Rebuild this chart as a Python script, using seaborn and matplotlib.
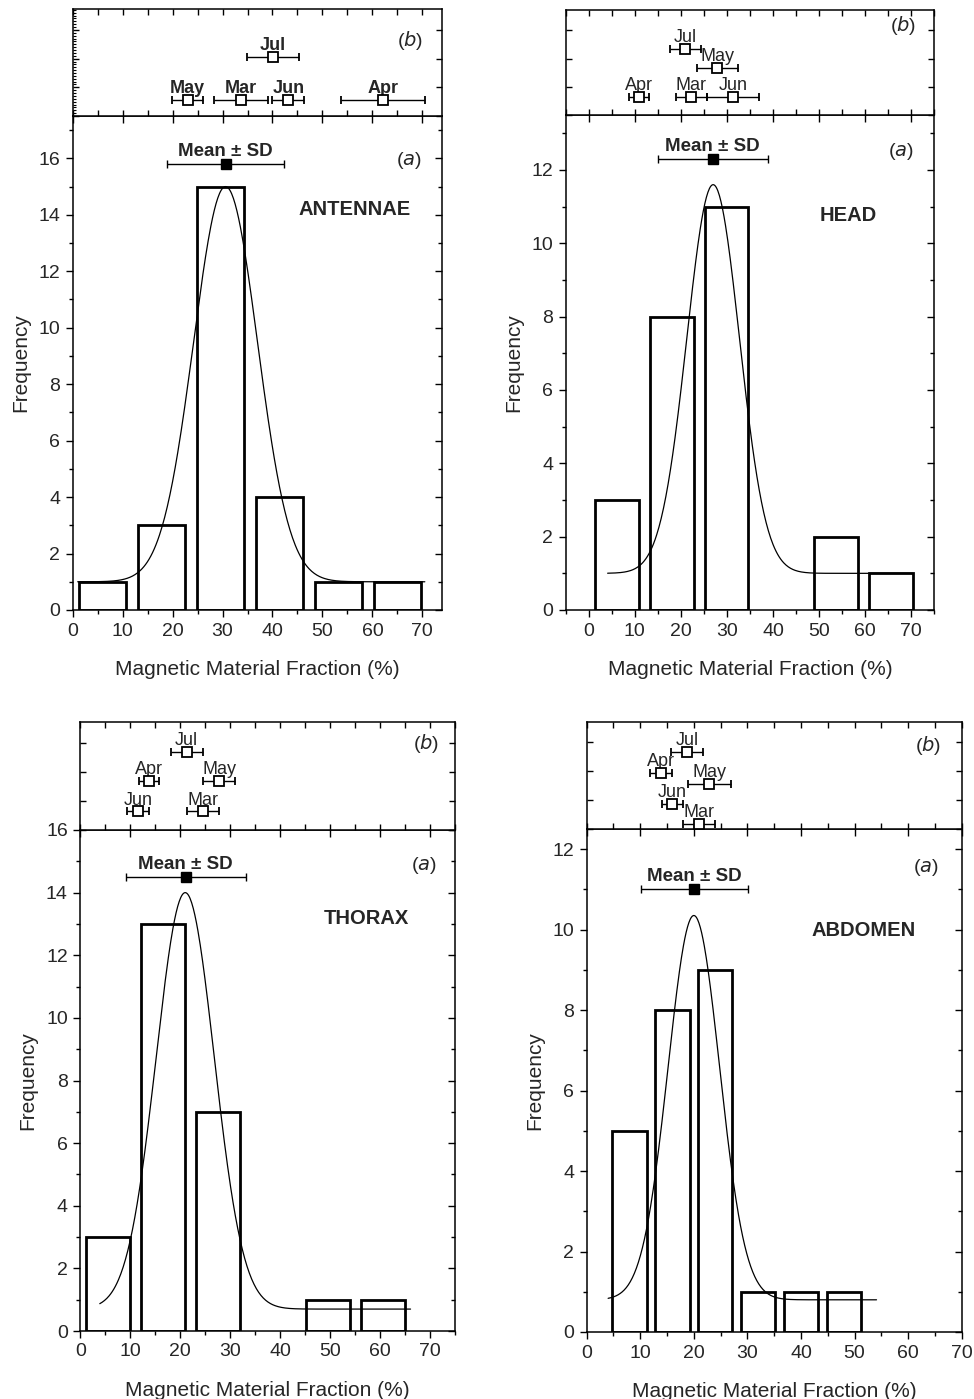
import numpy as np
import pandas as pd
import matplotlib
matplotlib.use("Agg")
import matplotlib.pyplot as plt
import seaborn as sns
from matplotlib.ticker import MultipleLocator

sns.set_theme(style="ticks")
plt.rcParams['font.family'] = ['Liberation Sans', 'DejaVu Sans']

# ---------------- data ----------------
panel_titles = ["ANTENNAE", "HEAD", "THORAX", "ABDOMEN"]

antennae_centers = [6.0, 17.8, 29.7, 41.5, 53.3, 65.1]
antennae_counts = [1, 3, 15, 4, 1, 1]
head_centers = [6.1, 18.0, 29.9, 41.8, 53.7, 65.6]
head_counts = [3, 8, 11, 0, 2, 1]
thorax_centers = [5.6, 16.6, 27.6, 38.6, 49.6, 60.6]
thorax_counts = [3, 13, 7, 0, 1, 1]
abdomen_centers = [8.0, 16.0, 24.0, 32.0, 40.0, 48.0]
abdomen_counts = [5, 8, 9, 1, 1, 1]

# Gaussian fit parameters: baseline, centre, sigma, amplitude, x-start, x-end
antennae_fit = [1.0, 30.6, 6.4, 14.0, 1.0, 70.5]
head_fit = [1.0, 27.0, 5.7, 10.6, 4.1, 70.4]
thorax_fit = [0.7, 21.0, 5.8, 13.3, 3.9, 66.1]
abdomen_fit = [0.8, 20.0, 4.8, 9.55, 4.0, 54.1]

# Mean +- SD: mean, sd, plotted height
antennae_mean_sd = [30.6, 11.8, 15.8]
head_mean_sd = [26.9, 11.95, 12.3]
thorax_mean_sd = [21.1, 12.0, 14.5]
abdomen_mean_sd = [20.1, 10.05, 11.0]

# Monthly means (panel b)
antennae_months = ["May", "Mar", "Jun", "Apr", "Jul"]
antennae_month_mean = [23.0, 33.7, 43.2, 62.2, 40.1]
antennae_month_sd = [3.15, 5.35, 3.2, 8.4, 5.3]
antennae_month_level = [0.56, 0.56, 0.56, 0.56, 2.07]

head_months = ["Apr", "Mar", "Jun", "May", "Jul"]
head_month_mean = [10.9, 22.3, 31.3, 27.9, 21.0]
head_month_sd = [2.15, 3.4, 5.65, 4.5, 3.4]
head_month_level = [0.64, 0.64, 0.64, 1.66, 2.34]

thorax_months = ["Jun", "Mar", "Apr", "May", "Jul"]
thorax_month_mean = [11.6, 24.5, 13.75, 27.8, 21.3]
thorax_month_sd = [2.2, 3.2, 2.1, 3.2, 3.2]
thorax_month_level = [0.64, 0.64, 1.68, 1.68, 2.71]

abdomen_months = ["Mar", "Jun", "May", "Apr", "Jul"]
abdomen_month_mean = [21.0, 16.0, 22.9, 13.9, 18.8]
abdomen_month_sd = [3.0, 2.0, 4.05, 2.0, 3.0]
abdomen_month_level = [0.16, 0.87, 1.57, 1.95, 2.68]

# ---------------- layout ----------------
W, H = 974, 1399
fig = plt.figure(figsize=(W / 100, H / 100), dpi=100)


def px_axes(left, right, top, bottom):
    return fig.add_axes([left / W, 1 - bottom / H, (right - left) / W, (bottom - top) / H])


panels = [
    dict(title=panel_titles[0], centers=antennae_centers, counts=antennae_counts,
         fit=antennae_fit, msd=antennae_mean_sd, months=antennae_months,
         mm=antennae_month_mean, ms=antennae_month_sd, ml=antennae_month_level,
         box=(72.7, 442.3, 116, 610, 9.3), xlim=(0, 74), ylim=(0, 17.5),
         title_xy=(56.5, 14.2), bold_months=True, fine_left=True,
         a_pos=(0.91, 0.909), b_pos=(0.913, 0.71)),
    dict(title=panel_titles[1], centers=head_centers, counts=head_counts,
         fit=head_fit, msd=head_mean_sd, months=head_months,
         mm=head_month_mean, ms=head_month_sd, ml=head_month_level,
         box=(565.7, 934.3, 115, 610, 10), xlim=(-5, 75), ylim=(0, 13.5),
         title_xy=(56.4, 10.75), bold_months=False, fine_left=False,
         a_pos=(0.91, 0.926), b_pos=(0.916, 0.857)),
    dict(title=panel_titles[2], centers=thorax_centers, counts=thorax_counts,
         fit=thorax_fit, msd=thorax_mean_sd, months=thorax_months,
         mm=thorax_month_mean, ms=thorax_month_sd, ml=thorax_month_level,
         box=(80.3, 455, 830, 1331, 722.3), xlim=(0, 75), ylim=(0, 16),
         title_xy=(57.3, 13.16), bold_months=False, fine_left=False,
         a_pos=(0.917, 0.93), b_pos=(0.924, 0.8)),
    dict(title=panel_titles[3], centers=abdomen_centers, counts=abdomen_counts,
         fit=abdomen_fit, msd=abdomen_mean_sd, months=abdomen_months,
         mm=abdomen_month_mean, ms=abdomen_month_sd, ml=abdomen_month_level,
         box=(586.7, 961.7, 829, 1332, 721.7), xlim=(0, 70), ylim=(0, 12.5),
         title_xy=(51.6, 9.98), bold_months=False, fine_left=False,
         a_pos=(0.904, 0.924), b_pos=(0.911, 0.78)),
]

FS = 14
for p in panels:
    l, r, top, bot, btop = p["box"]
    ax = px_axes(l, r, top, bot)
    axb = px_axes(l, r, btop, top)

    centers = np.asarray(p["centers"], float)
    counts = np.asarray(p["counts"], float)
    step = np.diff(centers).mean()
    df = pd.DataFrame({"x": centers, "w": counts})
    sns.histplot(data=df, x="x", weights="w", binwidth=step,
                 binrange=(centers[0] - step / 2, centers[-1] + step / 2),
                 shrink=0.8, fill=False, color="black", linewidth=2.0, ax=ax)
    for patch in list(ax.patches):
        if patch.get_height() == 0:
            patch.remove()

    y0, xc, sig, amp, xs, xe = p["fit"]
    xx = np.linspace(xs, xe, 400)
    yy = y0 + amp * np.exp(-(xx - xc) ** 2 / (2 * sig ** 2))
    sns.lineplot(x=xx, y=yy, color="black", linewidth=0.9, ax=ax)

    mean, sd, ylev = p["msd"]
    ax.errorbar([mean], [ylev], xerr=[sd], fmt="s", color="black", ms=7.5,
                capsize=3, elinewidth=1, capthick=1)
    ax.annotate("Mean \u00b1 SD", (mean, ylev), xytext=(0, 6),
                textcoords="offset points", ha="center", va="baseline",
                fontsize=13.5, fontweight="bold")
    ax.text(p["title_xy"][0], p["title_xy"][1], p["title"], ha="center",
            va="center", fontsize=14.5, fontweight="bold")
    ax.text(p["a_pos"][0], p["a_pos"][1], r"($\mathit{a}$)", transform=ax.transAxes,
            ha="center", va="center", fontsize=FS)

    ax.set_xlim(*p["xlim"])
    ax.set_ylim(*p["ylim"])
    ax.xaxis.set_major_locator(MultipleLocator(10))
    ax.xaxis.set_minor_locator(MultipleLocator(5))
    ax.yaxis.set_major_locator(MultipleLocator(2))
    ax.yaxis.set_minor_locator(MultipleLocator(1))
    ax.tick_params(axis="both", which="major", labelsize=FS, length=5,
                   width=1, direction="out", color="black", pad=4)
    ax.tick_params(axis="both", which="minor", length=3, width=1,
                   direction="out", color="black")
    ax.tick_params(axis="y", which="both", right=True)
    ax.tick_params(axis="x", which="major", top=True)
    ax.set_xlabel("Magnetic Material Fraction (%)", fontsize=15, labelpad=15)
    ax.set_ylabel("Frequency", fontsize=15, labelpad=6)
    for s in ax.spines.values():
        s.set_linewidth(1.1)
        s.set_color("black")
        s.set_visible(True)
    for t in ax.yaxis.get_major_ticks() + ax.yaxis.get_minor_ticks():
        t.tick2line.set_marker(matplotlib.lines.TICKLEFT)
    for t in ax.xaxis.get_major_ticks():
        t.tick2line.set_marker(matplotlib.lines.TICKDOWN)

    # ---- panel (b)
    axb.set_xlim(*p["xlim"])
    axb.set_ylim(0, 3.72)
    axb.errorbar(p["mm"], p["ml"], xerr=p["ms"], fmt="s", color="black",
                 mfc="white", mec="black", mew=1.3, ms=7.5, capsize=3,
                 elinewidth=1, capthick=1, clip_on=False, zorder=3)
    for name, xm, yl in zip(p["months"], p["mm"], p["ml"]):
        axb.annotate(name, (xm, yl), xytext=(0, 5), textcoords="offset points",
                     ha="center", va="baseline", fontsize=13,
                     fontweight="bold" if p["bold_months"] else "normal")
    axb.text(p["b_pos"][0], p["b_pos"][1], r"($\mathit{b}$)", transform=axb.transAxes,
             ha="center", va="center", fontsize=FS)
    axb.xaxis.set_major_locator(MultipleLocator(5))
    axb.yaxis.set_major_locator(MultipleLocator(1))
    axb.tick_params(axis="both", which="major", direction="in", length=4,
                    width=1, top=True, right=True, labelbottom=False,
                    labelleft=False, color="black")
    if p["fine_left"]:
        axb.yaxis.set_minor_locator(MultipleLocator(0.1))
        axb.tick_params(axis="y", which="minor", direction="in", length=2,
                        width=0.8, left=True, right=False, color="black")
    axb.set_xlabel("")
    axb.set_ylabel("")
    for s in axb.spines.values():
        s.set_linewidth(1.1)
        s.set_color("black")
        s.set_visible(True)

fig.savefig("out.png", dpi=100, facecolor="white")
